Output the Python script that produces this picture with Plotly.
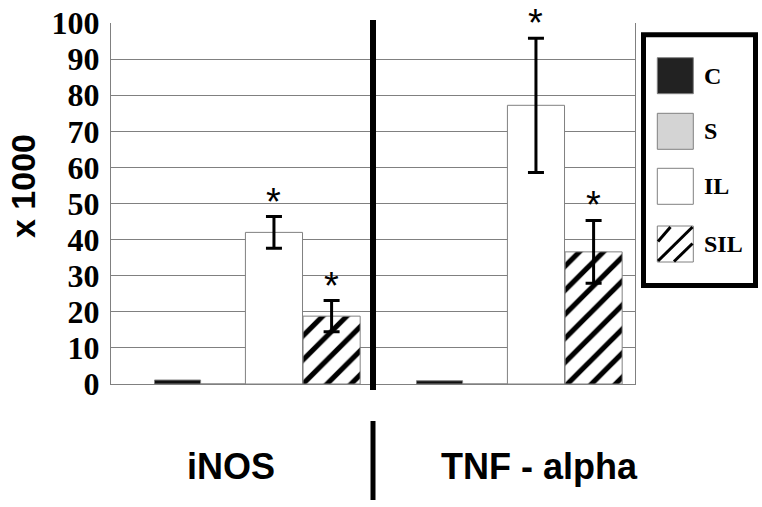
import plotly.graph_objects as go

# data (x 1000)
genes = ['iNOS', 'TNF - alpha']
groups = ['C', 'S', 'IL', 'SIL']
c_vals = [1.1, 0.9]
s_vals = [0, 0]
il_vals = [42.0, 77.2]
il_err = [4.4, 18.6]
sil_vals = [18.8, 36.6]
sil_err = [4.3, 8.7]

# plot area in screen pixels
L, R, T, B = 111, 635, 23, 384
W, H = R - L, B - T
FIG_W, FIG_H = 762, 507


def px(p):
    return (p - L) / W


def py(p):
    return (B - p) / H


EDGE = '#808080'
bar_specs = [
    # name, values, errors, fill, offset, width
    ('C', c_vals, None, '#111111', -0.334, 0.176),
    ('S', s_vals, None, '#d4d4d4', -0.158, 0.171),
    ('IL', il_vals, il_err, '#ffffff', 0.013, 0.218),
    ('SIL', sil_vals, sil_err, '#ffffff', 0.233, 0.218),
]

fig = go.Figure()
for name, vals, err, fill, off, wid in bar_specs:
    marker = dict(color=fill, line=dict(color=EDGE, width=1))
    if name == 'SIL':
        marker['pattern'] = dict(shape='/', fgcolor='#000000', fgopacity=1,
                                 bgcolor='white', size=17, solidity=0.3)
    fig.add_trace(go.Bar(
        name=name, x=genes, y=vals,
        offset=off, width=wid,
        marker=marker,
        error_y=dict(type='data', array=err, color='black', thickness=3, width=8)
        if err else None,
        showlegend=False,
    ))

# significance stars above the error bars
annotations = []
for name, vals, err, fill, off, wid in bar_specs:
    if not err:
        continue
    for i, (v, e) in enumerate(zip(vals, err)):
        annotations.append(dict(
            x=i + off + wid / 2, y=v + e, xref='x', yref='y',
            text='*', showarrow=False, yanchor='bottom', yshift=-8,
            font=dict(family='Liberation Sans', size=38, color='black'),
        ))

# category labels below the plot
annotations += [
    dict(x=px(231), y=py(466), xref='paper', yref='paper', text='<b>iNOS</b>',
         showarrow=False, xanchor='center', yanchor='middle',
         font=dict(family='Liberation Sans', size=36, color='black')),
    dict(x=px(539), y=py(466), xref='paper', yref='paper', text='<b>TNF - alpha</b>',
         showarrow=False, xanchor='center', yanchor='middle',
         font=dict(family='Liberation Sans', size=36, color='black')),
    dict(x=px(23), y=py(186), xref='paper', yref='paper', text='<b>x 1000</b>',
         textangle=-90, showarrow=False, xanchor='center', yanchor='middle',
         font=dict(family='Liberation Sans', size=34, color='black')),
]

shapes = [
    dict(type='line', xref='x', yref='paper', x0=0.5, x1=0.5,
         y0=py(390), y1=py(20), line=dict(color='black', width=6)),
    dict(type='line', xref='x', yref='paper', x0=0.5, x1=0.5,
         y0=py(500), y1=py(421), line=dict(color='black', width=5)),
    # legend box
    dict(type='rect', xref='paper', yref='paper', x0=px(643.5), x1=px(755.5),
         y0=py(285.5), y1=py(34.8), line=dict(color='black', width=5),
         fillcolor='white'),
]

legend_rows = [('C', '#222222', 57.7), ('S', '#d4d4d4', 113.3),
               ('IL', '#ffffff', 168.3), ('SIL', '#ffffff', 226.0)]
for label, fill, top in legend_rows:
    shapes.append(dict(type='rect', xref='paper', yref='paper',
                       x0=px(657.3), x1=px(693.3), y0=py(top + 36), y1=py(top),
                       line=dict(color=EDGE, width=1), fillcolor=fill))
    annotations.append(dict(
        x=px(702), y=py(top + 18), xref='paper', yref='paper',
        text=f'<b>{label}</b>', showarrow=False, xanchor='left', yanchor='middle',
        font=dict(family='Liberation Serif', size=24, color='black')))

# hatch strokes inside the SIL swatch
for (x0, y0), (x1, y1) in [((658, 241.5), (670.5, 227)),
                           ((658, 261), (692.5, 227)),
                           ((674, 261.5), (692.5, 243.5))]:
    shapes.append(dict(type='line', xref='paper', yref='paper',
                       x0=px(x0), y0=py(y0), x1=px(x1), y1=py(y1),
                       line=dict(color='black', width=3)))

fig.update_layout(
    width=FIG_W, height=FIG_H,
    margin=dict(l=L, r=FIG_W - R, t=T, b=FIG_H - B, autoexpand=False),
    paper_bgcolor='white', plot_bgcolor='white',
    barmode='overlay',
    showlegend=False,
    hovermode=False,
    xaxis=dict(type='category', range=[-0.5, 1.5], showticklabels=False,
               showgrid=False, showline=True, linecolor=EDGE, linewidth=1,
               ticks='', automargin=False),
    yaxis=dict(range=[0, 100], dtick=10, showgrid=True, gridcolor=EDGE,
               gridwidth=1, showline=True, mirror=True, linecolor=EDGE,
               linewidth=1, zeroline=False, ticks='', ticklabelstandoff=4,
               automargin=False, ticklabeloverflow='allow',
               tickfont=dict(family='Liberation Serif', size=32, color='black',
                             weight='bold')),
    shapes=shapes,
    annotations=annotations,
)

# drop the default 8px page margin so the figure fills the window
fig.write_html('out.html', config={'displayModeBar': False},
               post_script="document.body.style.margin='0';")
